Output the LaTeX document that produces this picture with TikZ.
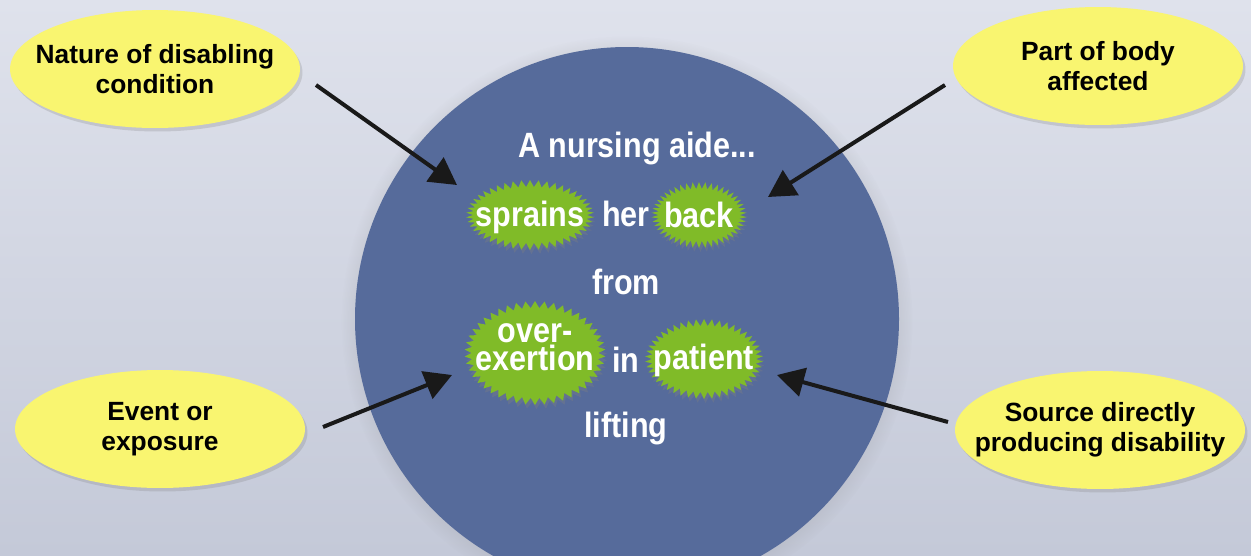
\documentclass[tikz,border=0pt]{standalone}
\usepackage{fontspec}
\setmainfont{Liberation Sans}
\usetikzlibrary{arrows.meta,shapes.geometric,shapes.symbols,shadows}

\definecolor{paleback}{RGB}{223,226,236}
\definecolor{darkback}{RGB}{196,201,216}
\definecolor{bigblue}{RGB}{86,107,155}
\definecolor{noteyellow}{RGB}{249,245,112}
\definecolor{burstgreen}{RGB}{128,187,40}
\newcommand{\narrow}[1]{\scalebox{0.87}[1]{#1}}

\begin{document}
\begin{tikzpicture}[x=0.02cm, y=-0.02cm,
    topic/.style={ellipse, fill=noteyellow, minimum width=5.8cm, minimum height=2.36cm,
      inner xsep=-0.35cm, align=center, font=\bfseries\fontsize{15}{17}\selectfont,
      drop shadow={opacity=0.25, shadow xshift=0.05cm, shadow yshift=-0.07cm}},
    word/.style={text=white, font=\bfseries\fontsize{20}{16}\selectfont, align=center, inner sep=1pt},
    burst/.style={starburst, starburst points=46, starburst point height=0.14cm,
      random starburst=0, fill=burstgreen, inner sep=0pt,
      drop shadow={opacity=0.35, shadow xshift=0.03cm, shadow yshift=-0.08cm}},
    pointer/.style={line width=0.08cm, draw=black!90, -{Triangle[length=0.54cm, width=0.58cm]}}
  ]
  \shade[top color=paleback, bottom color=darkback] (0,0) rectangle (1251,555);
  \useasboundingbox (0,0) rectangle (1251,555);
  \fill[bigblue, circular drop shadow={opacity=0.35, shadow scale=1.05, shadow xshift=0cm, shadow yshift=-0.05cm}]
    (627,319) circle[radius=272];

  \node[topic] (nature) at (155,69) {Nature of disabling\\condition};
  \node[topic] (body) at (1098,66) {Part of body\\affected};
  \node[topic] (event) at (160,429) {Event or\\exposure};
  \node[topic, inner xsep=-0.46cm] (source) at (1100,430) {Source directly\\producing disability};

  \node[burst, minimum width=2.56cm, minimum height=1.4cm] (sprains) at (530,215) {};
  \node[burst, minimum width=1.9cm, minimum height=1.32cm] (back) at (699,215) {};
  \node[burst, minimum width=2.82cm, minimum height=2.08cm] (overexertion) at (535,353) {};
  \node[burst, minimum width=2.36cm, minimum height=1.6cm] (patient) at (704,359) {};

  \node[word] (aide) at (637,148) {\narrow{A nursing aide...}};
  \node[word] (spraintext) at ([yshift=-0.05cm]sprains) {\narrow{sprains}};
  \node[word] (her) at (626,214) {\narrow{her}};
  \node[word] (backtext) at (back) {\narrow{back}};
  \node[word] (from) at (626,282) {\narrow{from}};
  \node[word] (overtext) at ([yshift=0.12cm]overexertion) {\narrow{over-}\\\narrow{exertion}};
  \node[word] (in) at (626,360) {\narrow{in}};
  \node[word] (patienttext) at ([yshift=-0.03cm]patient) {\narrow{patient}};
  \node[word] (lifting) at (626,428) {\narrow{lifting}};

  \coordinate (natureTail) at (316,85);
  \coordinate (natureTip) at (457,185);
  \coordinate (bodyTail) at (945,85);
  \coordinate (bodyTip) at (768,197);
  \coordinate (eventTail) at (323,427);
  \coordinate (eventTip) at (452,375);
  \coordinate (sourceTail) at (948,422);
  \coordinate (sourceTip) at (777,375);
  \draw[pointer] (natureTail) -- (natureTip);
  \draw[pointer] (bodyTail) -- (bodyTip);
  \draw[pointer] (eventTail) -- (eventTip);
  \draw[pointer] (sourceTail) -- (sourceTip);
\end{tikzpicture}
\end{document}
